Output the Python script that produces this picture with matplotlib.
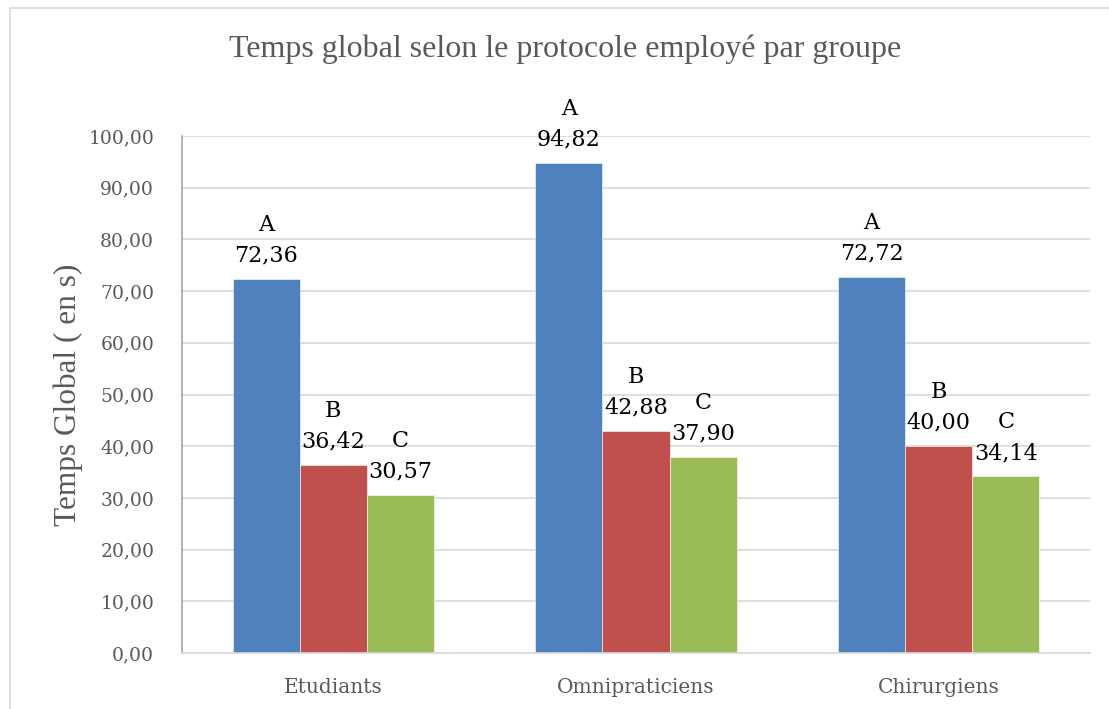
import matplotlib.pyplot as plt
import numpy as np
from matplotlib.patches import Rectangle

# Données
groupes = ['Etudiants', 'Omnipraticiens', 'Chirurgiens']
protocoles = ['A', 'B', 'C']
temps_A = [72.36, 94.82, 72.72]
temps_B = [36.42, 42.88, 40.00]
temps_C = [30.57, 37.90, 34.14]
couleurs = ['#4F81BD', '#C0504D', '#9BBB59']

W, H = 1109, 709
fig = plt.figure(figsize=(W / 100, H / 100), dpi=100)
ax = fig.add_axes([182 / W, 1 - 653 / H, (1090 - 182) / W, (653 - 136) / H])

# Cadre extérieur du graphique
fig.patches.append(Rectangle((10 / W, -0.05), 1.2, 1 - 8 / H + 0.05,
                             transform=fig.transFigure, fill=False,
                             edgecolor='#D9D9D9', linewidth=1.2))

x = np.arange(len(groupes))
largeur = 0.222
series = [temps_A, temps_B, temps_C]
for i, (vals, lettre, coul) in enumerate(zip(series, protocoles, couleurs)):
    pos = x + (i - 1) * largeur
    barres = ax.bar(pos, vals, width=largeur, color=coul,
                    edgecolor='white', linewidth=0.4, zorder=2)
    for b, v in zip(barres, vals):
        txt = lettre + '\n' + f'{v:.2f}'.replace('.', ',')
        ax.annotate(txt, (b.get_x() + b.get_width() / 2, v),
                    xytext=(0, 9), textcoords='offset points',
                    ha='center', va='bottom', fontsize=16,
                    family='DejaVu Serif', linespacing=1.5, color='black')

ax.set_xlim(-0.5, 2.5)
ax.set_ylim(0, 100)
ax.set_yticks(np.arange(0, 101, 10))
ax.set_yticklabels([f'{v:.2f}'.replace('.', ',') for v in range(0, 101, 10)],
                   family='DejaVu Serif', fontsize=13.5, color='#595959')
ax.set_xticks(x)
ax.set_xticklabels(groupes, family='DejaVu Serif', fontsize=14.5, color='#595959')
ax.tick_params(axis='both', length=0)
ax.tick_params(axis='y', pad=20)
ax.tick_params(axis='x', pad=18)

ax.grid(axis='y', color='#D9D9D9', linewidth=1.2, zorder=0)
ax.set_axisbelow(True)
for s in ['top', 'right']:
    ax.spines[s].set_visible(False)
ax.spines['left'].set_color('#A6A6A6')
ax.spines['left'].set_linewidth(1.2)
ax.spines['left'].set_bounds(0, 100)
ax.spines['bottom'].set_color('#D9D9D9')
ax.spines['bottom'].set_linewidth(1.2)

ax.set_ylabel('Temps Global ( en s)', family='Liberation Serif', fontsize=22.5,
              color='#595959', labelpad=4)
fig.text(565 / W, 1 - 49 / H, 'Temps global selon le protocole employé par groupe',
         ha='center', va='center', family='Liberation Serif', fontsize=23,
         color='#595959')

fig.savefig('out.png', dpi=100)
